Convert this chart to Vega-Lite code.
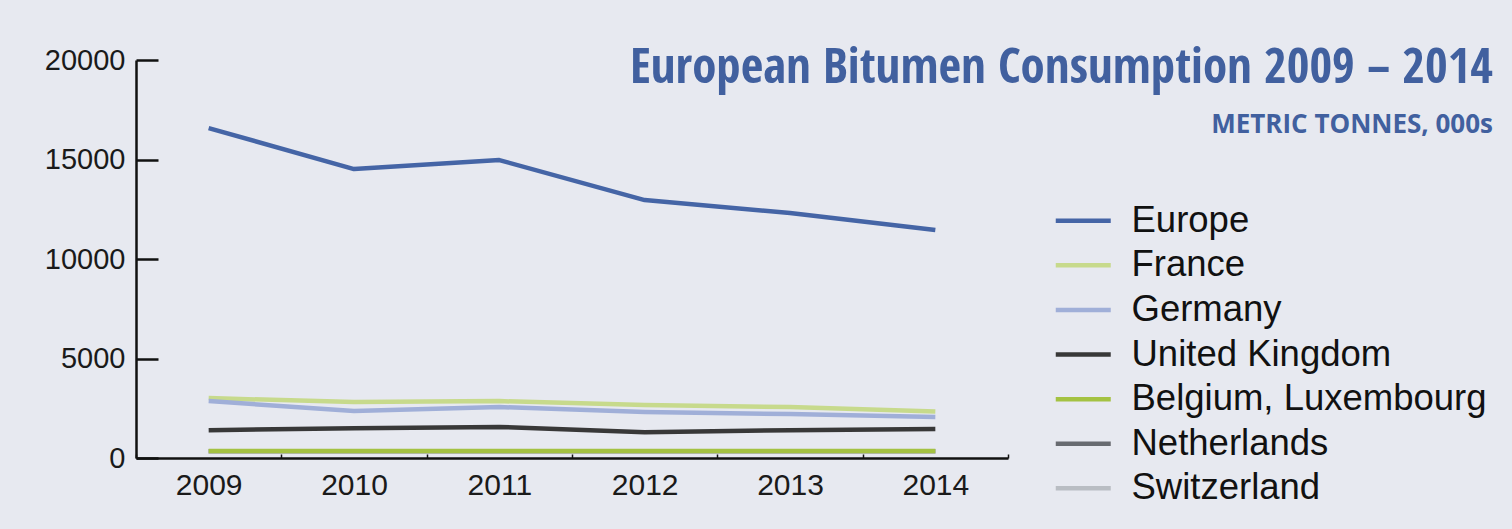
{
  "$schema": "https://vega.github.io/schema/vega-lite/v6.json",
  "width": 872,
  "height": 398,
  "autosize": {"type": "none"},
  "padding": {"left": 136, "top": 60, "right": 504, "bottom": 71},
  "background": "#e7e9f0",
  "title": {
    "text": "European Bitumen Consumption 2009 – 2014",
    "subtitle": "METRIC TONNES, 000s",
    "anchor": "end",
    "frame": "group",
    "orient": "top",
    "dx": 485,
    "dy": 96,
    "font": "'Open Sans Condensed', 'Roboto Condensed', 'DejaVu Sans Condensed', 'Liberation Sans Narrow', 'Open Sans', sans-serif",
    "fontSize": 49,
    "fontWeight": "bold",
    "color": "#41609f",
    "subtitleFont": "Open Sans",
    "subtitleFontSize": 26,
    "subtitleFontWeight": "bold",
    "subtitleColor": "#41609f",
    "subtitlePadding": 19
  },
  "data": {
    "values": [
      {"country": "Netherlands", "year": "2009", "value": 340},
      {"country": "Netherlands", "year": "2010", "value": 340},
      {"country": "Netherlands", "year": "2011", "value": 340},
      {"country": "Netherlands", "year": "2012", "value": 340},
      {"country": "Netherlands", "year": "2013", "value": 340},
      {"country": "Netherlands", "year": "2014", "value": 340},
      {"country": "Switzerland", "year": "2009", "value": 330},
      {"country": "Switzerland", "year": "2010", "value": 330},
      {"country": "Switzerland", "year": "2011", "value": 330},
      {"country": "Switzerland", "year": "2012", "value": 330},
      {"country": "Switzerland", "year": "2013", "value": 330},
      {"country": "Switzerland", "year": "2014", "value": 330},
      {"country": "Europe", "year": "2009", "value": 16580},
      {"country": "Europe", "year": "2010", "value": 14520},
      {"country": "Europe", "year": "2011", "value": 14970},
      {"country": "Europe", "year": "2012", "value": 12960},
      {"country": "Europe", "year": "2013", "value": 12310},
      {"country": "Europe", "year": "2014", "value": 11460},
      {"country": "France", "year": "2009", "value": 3010},
      {"country": "France", "year": "2010", "value": 2810},
      {"country": "France", "year": "2011", "value": 2860},
      {"country": "France", "year": "2012", "value": 2660},
      {"country": "France", "year": "2013", "value": 2560},
      {"country": "France", "year": "2014", "value": 2340},
      {"country": "Germany", "year": "2009", "value": 2860},
      {"country": "Germany", "year": "2010", "value": 2360},
      {"country": "Germany", "year": "2011", "value": 2560},
      {"country": "Germany", "year": "2012", "value": 2310},
      {"country": "Germany", "year": "2013", "value": 2210},
      {"country": "Germany", "year": "2014", "value": 2060},
      {"country": "United Kingdom", "year": "2009", "value": 1400},
      {"country": "United Kingdom", "year": "2010", "value": 1500},
      {"country": "United Kingdom", "year": "2011", "value": 1560},
      {"country": "United Kingdom", "year": "2012", "value": 1300},
      {"country": "United Kingdom", "year": "2013", "value": 1400},
      {"country": "United Kingdom", "year": "2014", "value": 1460},
      {"country": "Belgium, Luxembourg", "year": "2009", "value": 350},
      {"country": "Belgium, Luxembourg", "year": "2010", "value": 350},
      {"country": "Belgium, Luxembourg", "year": "2011", "value": 350},
      {"country": "Belgium, Luxembourg", "year": "2012", "value": 350},
      {"country": "Belgium, Luxembourg", "year": "2013", "value": 350},
      {"country": "Belgium, Luxembourg", "year": "2014", "value": 350}
    ]
  },
  "mark": {"type": "line", "strokeCap": "butt", "strokeJoin": "round"},
  "encoding": {
    "x": {
      "field": "year",
      "type": "ordinal",
      "bandPosition": 0.5,
      "scale": {"type": "band", "paddingInner": 0, "paddingOuter": 0},
      "axis": {
        "title": null,
        "domainColor": "#111111",
        "domainWidth": 2.5,
        "tickBand": "extent",
        "tickColor": "#111111",
        "tickWidth": 1.5,
        "tickSize": -4,
        "labelFont": "Liberation Sans",
        "labelFontSize": 30,
        "labelColor": "#1a1a1a",
        "labelAngle": 0,
        "labelPadding": 16,
        "labelDx": -6,
        "labelBaseline": "top"
      }
    },
    "y": {
      "field": "value",
      "type": "quantitative",
      "scale": {"domain": [0, 20000], "nice": false},
      "axis": {
        "title": null,
        "values": [0, 5000, 10000, 15000, 20000],
        "format": "d",
        "grid": false,
        "domainColor": "#111111",
        "domainWidth": 2.5,
        "tickColor": "#111111",
        "tickWidth": 2.5,
        "tickSize": -22,
        "labelFont": "Liberation Sans",
        "labelFontSize": 29,
        "labelColor": "#1a1a1a",
        "labelPadding": 33,
        "labelFlush": false
      }
    },
    "strokeWidth": {
      "field": "country",
      "type": "nominal",
      "scale": {
        "domain": ["Europe", "France", "Germany", "United Kingdom", "Belgium, Luxembourg", "Netherlands", "Switzerland"],
        "range": [4.5, 4.5, 4.5, 4.5, 6.5, 4.5, 4.5]
      },
      "legend": null
    },
    "color": {
      "field": "country",
      "type": "nominal",
      "scale": {
        "domain": ["Europe", "France", "Germany", "United Kingdom", "Belgium, Luxembourg", "Netherlands", "Switzerland"],
        "range": ["#4565a6", "#c7da8c", "#a0afd8", "#383838", "#a4c242", "#686b70", "#b9bdc3"]
      },
      "legend": {
        "title": null,
        "orient": "none",
        "legendX": 929,
        "legendY": 142.5,
        "padding": 0,
        "symbolType": "M-2,0H2",
        "symbolSize": 756,
        "symbolStrokeWidth": 4,
        "symbolFillColor": "transparent",
        "labelOffset": 30,
        "labelFont": "Liberation Sans",
        "labelFontSize": 36.5,
        "labelColor": "#111111",
        "labelLimit": 0,
        "rowPadding": 7.6
      }
    }
  },
  "config": {"view": {"stroke": null}}
}
